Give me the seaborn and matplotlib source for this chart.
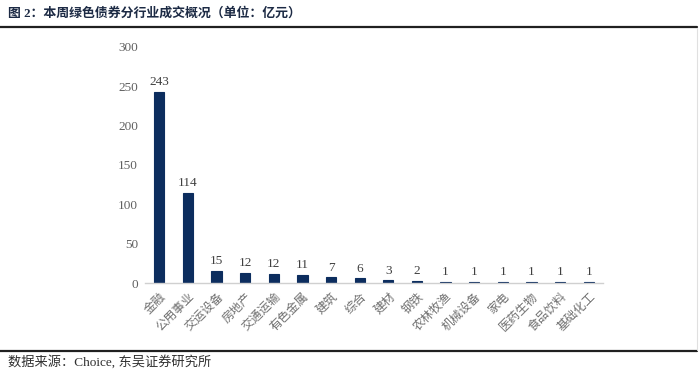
import matplotlib
matplotlib.use('Agg')
import matplotlib.pyplot as plt
import matplotlib.transforms as mtransforms
import seaborn as sns
import pandas as pd

# data
industries = ['金融', '公用事业', '交运设备', '房地产', '交通运输', '有色金属', '建筑', '综合',
              '建材', '钢铁', '农林牧渔', '机械设备', '家电', '医药生物', '食品饮料', '基础化工']
amounts = [243, 114, 15.2, 12.2, 11.7, 10.6, 7.0, 5.8, 3.2, 2.2, 0.8, 1.3, 1.2, 1.2, 1.2, 1.2]
yticks = [0, 50, 100, 150, 200, 250, 300]

df = pd.DataFrame({'industry': industries, 'amount': amounts})

sns.set_style('white')
plt.rcParams['font.family'] = ['Liberation Serif', 'Noto Sans CJK SC']

fig = plt.figure(figsize=(7, 3.73), dpi=100)
ax = fig.add_axes([145 / 700, 1 - 283 / 373, 458 / 700, 236 / 373])

sns.barplot(data=df, x='industry', y='amount', color='#0c2d5e', width=0.36,
            saturation=1, edgecolor='#0c2d5e', linewidth=0.8, ax=ax)

for i, v in enumerate(amounts):
    ax.text(i, v + 5, f'{v:.0f}', ha='center', va='bottom', fontsize=9.5,
            color='#404040', family=['Liberation Serif'])

ax.set_ylim(0, 300)
ax.set_xlim(-0.5, len(industries) - 0.5)
ax.set_yticks(yticks)
ax.set_yticklabels([str(t) for t in yticks], fontsize=9.5, color='#606060',
                   family=['Liberation Serif'])
ax.set_xticks(range(len(industries)))
ax.set_xticklabels(industries, rotation=45, ha='right', rotation_mode='anchor',
                   fontsize=8.7, color='#707070', family=['Noto Sans CJK SC'])
# nudge the slanted labels a little to the right, like the source
shift = mtransforms.ScaledTranslation(4 / 100, 0, fig.dpi_scale_trans)
for lbl in ax.get_xticklabels():
    lbl.set_transform(lbl.get_transform() + shift)
ax.tick_params(axis='both', length=0, pad=5)
ax.set_xlabel('')
ax.set_ylabel('')
for s in ['top', 'right', 'left']:
    ax.spines[s].set_visible(False)
ax.spines['bottom'].set_color('#d0d0d0')
ax.spines['bottom'].set_linewidth(1)

# title, rules and source
fig.text(0.012, 1 - 13 / 373, '图 2：本周绿色债券分行业成交概况（单位：亿元）', fontsize=9.3,
         fontweight='bold', color='#1c2a44', va='center',
         family=['Liberation Serif', 'Noto Sans CJK SC'])
fig.add_artist(plt.Line2D([0, 0.996], [1 - 27 / 373] * 2, color='#202020', lw=1.6,
                          transform=fig.transFigure))
fig.add_artist(plt.Line2D([0, 0.996], [1 - 351 / 373] * 2, color='#202020', lw=1.6,
                          transform=fig.transFigure))
fig.add_artist(plt.Line2D([0.996, 0.996], [1 - 28 / 373, 1 - 350 / 373], color='#e0e0e0',
                          lw=0.8, transform=fig.transFigure))
fig.text(0.012, 1 - 362 / 373, '数据来源：Choice, 东吴证券研究所', fontsize=9.5,
         color='#303030', va='center', family=['Liberation Serif', 'Noto Sans CJK SC'])

fig.savefig('out.png', dpi=100)
